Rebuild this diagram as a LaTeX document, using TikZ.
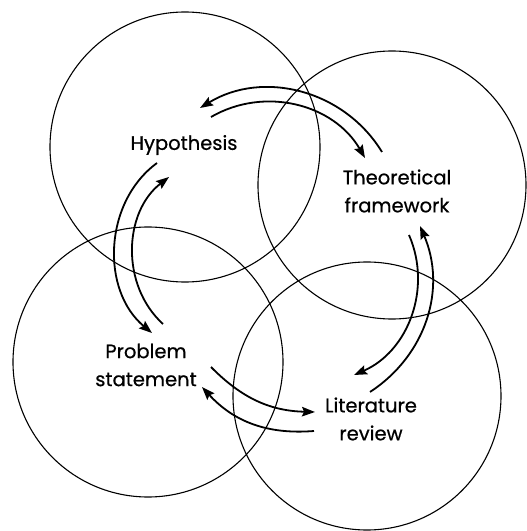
\documentclass[tikz,border=0pt]{standalone}
\usepackage{fontspec}
\newfontfamily\lblfont{Poppins}[FakeBold=0.6]
\usetikzlibrary{arrows.meta}
\tikzset{
  ring/.style={draw,line width=1.1pt},
  lbl/.style={align=center,inner sep=0pt,font=\lblfont\fontsize{19.5}{28}\selectfont},
  fw/.style={-{Stealth[length=13pt,width=9.5pt,inset=2pt]},line width=1.8pt}
}
\begin{document}
\begin{tikzpicture}[x=1pt,y=1pt]
\useasboundingbox (0,0) rectangle (527,531);
% the four rings
\draw[ring] (185,384) circle (135);
\draw[ring] (392,346) circle (134);
\draw[ring] (148,169) circle (135);
\draw[ring] (367,135) circle (134);
% labels
\node[lbl](hyp) at (184,386){Hypothesis};
\node[lbl](theo) at (397,340){Theoretical\\framework};
\node[lbl](prob) at (146,166){Problem\\statement};
\node[lbl](lit) at (371,112){Literature\\review};
% arrow ends
\coordinate (ht1) at (382,379);\coordinate (ht2) at (200,423);
\coordinate (ht3) at (211,414);\coordinate (ht4) at (365,373);
\coordinate (tl1) at (409,296);\coordinate (tl2) at (354,156);
\coordinate (tl3) at (370,139);\coordinate (tl4) at (420,305);
\coordinate (lp1) at (211,164);\coordinate (lp2) at (315,119);
\coordinate (lp3) at (314,100);\coordinate (lp4) at (202,144);
\coordinate (ph1) at (157,368);\coordinate (ph2) at (152,198);
\coordinate (ph3) at (163,207);\coordinate (ph4) at (169,354);
% arrows
\draw[fw] (ht1) to[bend right=45] (ht2);
\draw[fw] (ht3) to[bend left=45] (ht4);
\draw[fw] (tl1) to[bend left=45] (tl2);
\draw[fw] (tl3) to[bend right=40] (tl4);
\draw[fw] (lp1) to[bend right=22] (lp2);
\draw[fw] (lp3) to[bend left=26] (lp4);
\draw[fw] (ph1) to[bend right=52] (ph2);
\draw[fw] (ph3) to[bend left=50] (ph4);
\end{tikzpicture}
\end{document}
